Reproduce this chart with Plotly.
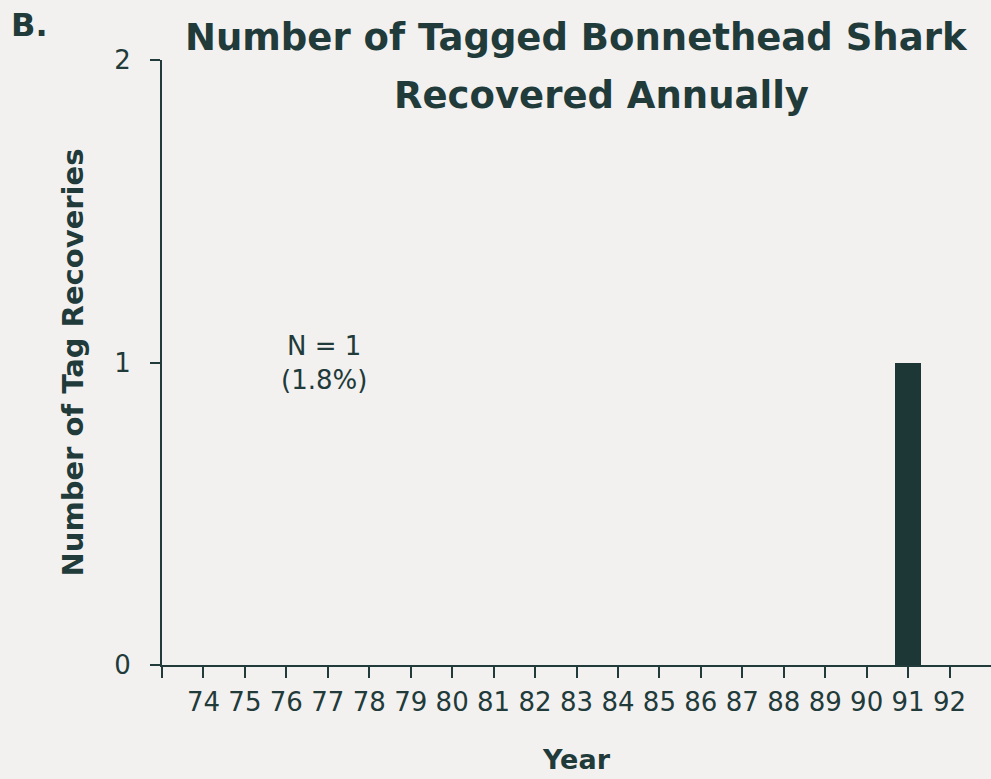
import plotly.graph_objects as go

# Annual tag recoveries of bonnethead shark, 1974-1992
years = list(range(74, 93))
recoveries = [0, 0, 0, 0, 0, 0, 0, 0, 0, 0, 0, 0, 0, 0, 0, 0, 0, 1, 0]
tick_years = list(range(73, 93))
tick_text = [""] + [str(y) for y in years]
y_ticks = [0, 1, 2]

INK = "#213a3a"
BAR = "#1d3636"
BG = "#f3f1ef"
FONT = "DejaVu Sans"

fig = go.Figure()
fig.add_trace(go.Bar(
    x=years, y=recoveries, width=0.63,
    marker=dict(color=BAR, line=dict(width=0)),
    showlegend=False, hoverinfo="skip",
))

fig.update_layout(
    width=991, height=779,
    margin=dict(l=162, r=0, t=60, b=114),
    paper_bgcolor=BG, plot_bgcolor=BG,
    font=dict(family=FONT, color=INK),
    bargap=0,
)
fig.update_xaxes(
    range=[73, 93], tickmode="array", tickvals=tick_years, ticktext=tick_text,
    showline=True, linecolor=INK, linewidth=2, ticks="outside", ticklen=11,
    tickwidth=2, tickcolor=INK, showgrid=False, zeroline=False,
    ticklabelstandoff=2,
    tickfont=dict(size=26, color=INK),
    title=dict(text="Year", font=dict(size=27, color=INK, weight="bold"), standoff=34),
)
fig.update_yaxes(
    range=[0, 2], tickmode="array", tickvals=y_ticks,
    showline=True, linecolor=INK, linewidth=2, ticks="outside", ticklen=10,
    tickwidth=2, tickcolor=INK, showgrid=False, zeroline=False,
    ticklabelstandoff=14,
    tickfont=dict(size=26, color=INK),
    title=dict(text="Number of Tag Recoveries", font=dict(size=29, color=INK, weight="bold"), standoff=22),
)

# Title lines and panel letter
fig.add_annotation(text="Number of Tagged Bonnethead Shark", xref="paper", yref="paper",
                   x=(576 - 162) / 829, y=1 + (60 - 37) / 605, showarrow=False,
                   font=dict(size=37, color=INK, weight="bold"), xanchor="center", yanchor="middle")
fig.add_annotation(text="Recovered Annually", xref="paper", yref="paper",
                   x=(601 - 162) / 829, y=1 - (96 - 60) / 605, showarrow=False,
                   font=dict(size=37, color=INK, weight="bold"), xanchor="center", yanchor="middle")
fig.add_annotation(text="B.", xref="paper", yref="paper",
                   x=-(162 - 9) / 829, y=1 + (60 - 25) / 605, showarrow=False,
                   font=dict(size=32, color=INK, weight="bold"), xanchor="left", yanchor="middle")

# Sample size note
fig.add_annotation(text="N = 1<br>(1.8%)", x=76.9, y=1.0, showarrow=False,
                   font=dict(size=26, color=INK), align="center",
                   xanchor="center", yanchor="middle")

fig.write_html("out.html")
